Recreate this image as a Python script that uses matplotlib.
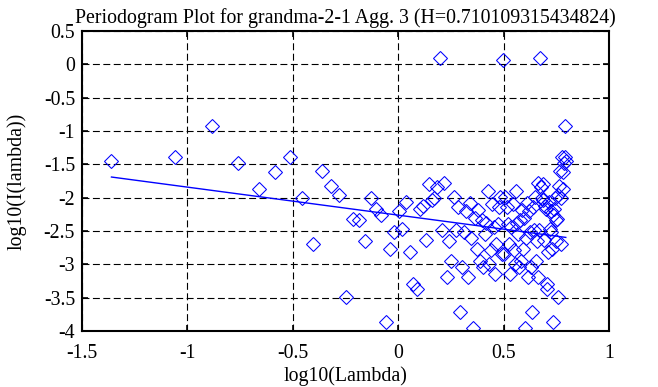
import numpy as np
import matplotlib
matplotlib.use('Agg')
from matplotlib import pyplot as plt

H = 0.710109315434824
N = 144                     # series length, lambda_k = 2*pi*k/N
intercept = -2.262          # fitted line intercept

# log10(I(lambda)) for k = 1..72 (second half mirrors it, I(k) = I(N-k))
half_logI = [-1.45, -1.39, -0.93, -1.48, -1.865, -1.61, -1.39, -2.0, -2.695, -1.605,
             -1.83, -1.96, -3.49, -2.32, -2.33, -2.65, -2.0, -2.17, -2.26, -3.87,
             -2.775, -2.52, -2.2, -2.475, -2.065, -2.815, -3.3, -3.37, -2.17, -2.12,
             -2.64, -1.8, -2.04, -2.0, -1.84, 0.1, -2.49, -1.78, -3.19, -2.65,
             -2.95, -1.99, -2.49, -2.14, -3.72, -3.04, -2.52, -2.2, -3.19, -2.08,
             -2.6, -3.95, -2.31, -2.77, -2.18, -2.95, -2.34, -3.04, -2.55, -2.38,
             -1.9, -3.0, -2.79, -2.1, -2.44, -3.14, -2.7, -2.39, -2.14, -1.99,
             -2.84, 0.065]
logI = half_logI + half_logI[-2::-1]

xticks = [-1.5, -1, -0.5, 0, 0.5, 1]
yticks = [-4, -3.5, -3, -2.5, -2, -1.5, -1, -0.5, 0, 0.5]

plt.rcParams['font.family'] = ['Liberation Serif', 'DejaVu Serif']
plt.rcParams['font.size'] = 14.3
plt.rcParams['axes.unicode_minus'] = False
plt.rcParams['lines.scale_dashes'] = False

lam = 2*np.pi*np.arange(1, N)/N
x = np.log10(lam)
slope = 1 - 2*H

fig = plt.figure(figsize=(6.58, 3.87), dpi=100)
ax = fig.add_axes([0.1246, 0.1447, 0.8009, 0.7752])
ax.plot(x, logI, 'D', mfc='none', mec='#0000ff', ms=6.8, mew=0.75)
ax.plot(x, slope*x + intercept, '-', color='#0000ff', lw=1.0)

ax.set_xlim(-1.5, 1)
ax.set_ylim(-4, 0.5)
ax.set_xticks(xticks)
ax.set_xticklabels(['%g' % v for v in xticks])
ax.set_yticks(yticks)
ax.set_yticklabels(['%g' % v for v in yticks])
ax.grid(True, color='black', linestyle=(0, (5, 2.5)), linewidth=0.8)
ax.tick_params(direction='in', top=True, right=True, length=4, width=1.2)
ax.tick_params(axis='x', pad=9)
ax.tick_params(axis='y', pad=5)
for s in ax.spines.values():
    s.set_linewidth(1.5)

ax.set_title('Periodogram Plot for grandma-2-1 Agg. 3 (H=0.710109315434824)',
             fontsize=14.3, pad=6)
ax.set_xlabel('log10(Lambda)', labelpad=3)
ax.set_ylabel('log10(I(lambda))', labelpad=12)

fig.savefig('out.png', dpi=100)
